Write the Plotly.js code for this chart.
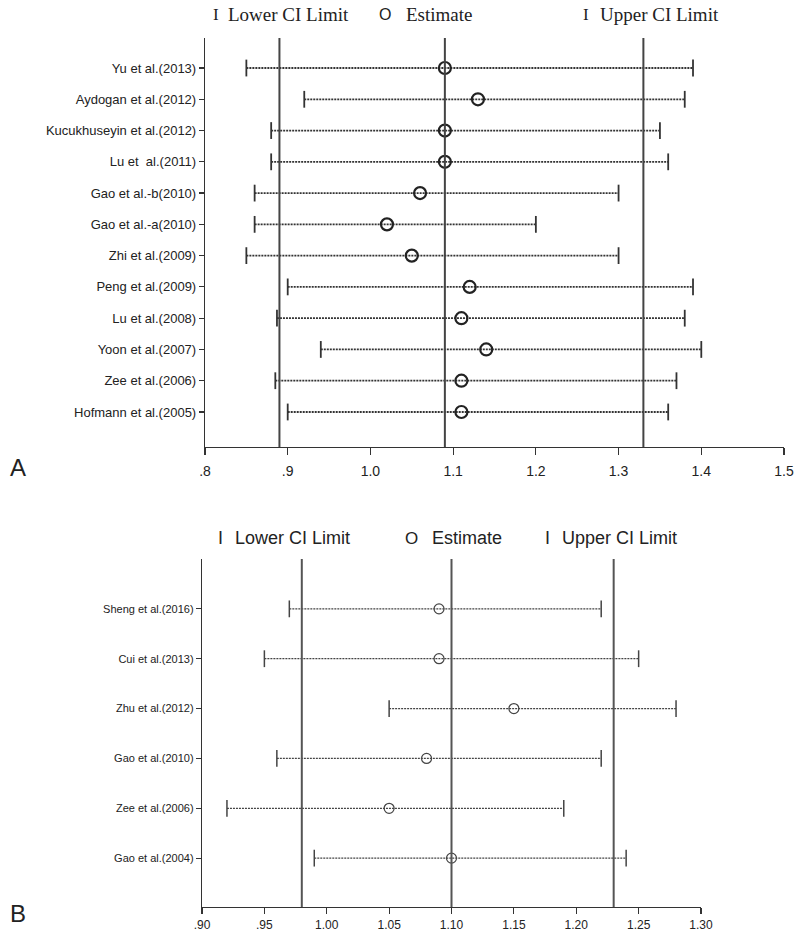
<!DOCTYPE html>
<html>
<head>
<meta charset="utf-8">
<script src="https://cdn.plot.ly/plotly-3.0.1.min.js"></script>
<style>html,body{margin:0;padding:0;background:#fff;}#chart{width:800px;height:935px;}</style>
</head>
<body>
<div id="chart"></div>
<script>
// Panel A data
const studiesA = ["Yu et al.(2013)", "Aydogan et al.(2012)", "Kucukhuseyin et al.(2012)", "Lu et  al.(2011)",
  "Gao et al.-b(2010)", "Gao et al.-a(2010)", "Zhi et al.(2009)", "Peng et al.(2009)", "Lu et al.(2008)",
  "Yoon et al.(2007)", "Zee et al.(2006)", "Hofmann et al.(2005)"];
const lowerA = [0.85, 0.92, 0.88, 0.88, 0.86, 0.86, 0.85, 0.90, 0.887, 0.94, 0.885, 0.90];
const estA   = [1.09, 1.13, 1.09, 1.09, 1.06, 1.02, 1.05, 1.12, 1.11, 1.14, 1.11, 1.11];
const upperA = [1.39, 1.38, 1.35, 1.36, 1.30, 1.20, 1.30, 1.39, 1.38, 1.40, 1.37, 1.36];
const refA = [0.89, 1.09, 1.33];
const tickValsA = [0.8, 0.9, 1.0, 1.1, 1.2, 1.3, 1.4, 1.5];
const tickTextA = [".8", ".9", "1.0", "1.1", "1.2", "1.3", "1.4", "1.5"];

// Panel B data
const studiesB = ["Sheng et al.(2016)", "Cui et al.(2013)", "Zhu et al.(2012)", "Gao et al.(2010)", "Zee et al.(2006)", "Gao et al.(2004)"];
const lowerB = [0.97, 0.95, 1.05, 0.96, 0.92, 0.99];
const estB   = [1.09, 1.09, 1.15, 1.08, 1.05, 1.10];
const upperB = [1.22, 1.25, 1.28, 1.22, 1.19, 1.24];
const refB = [0.98, 1.10, 1.23];
const tickValsB = [0.90, 0.95, 1.00, 1.05, 1.10, 1.15, 1.20, 1.25, 1.30];
const tickTextB = [".90", ".95", "1.00", "1.05", "1.10", "1.15", "1.20", "1.25", "1.30"];

const W = 800, H = 935;
const px = v => v / W;
const py = v => 1 - v / H;

function panelTraces(lower, est, upper, xa, ya, opts) {
  const idx = lower.map((_, i) => i);
  const lx = [], ly = [];
  idx.forEach(i => { lx.push(lower[i], upper[i], null); ly.push(i, i, null); });
  const cap = { symbol: 'line-ns-open', size: opts.capSize, color: opts.lineColor, line: { color: opts.lineColor, width: opts.capWidth } };
  return [
    { type: 'scatter', mode: 'lines', x: lx, y: ly, xaxis: xa, yaxis: ya, hoverinfo: 'skip', showlegend: false,
      line: { color: opts.lineColor, width: opts.dotWidth, dash: opts.dash } },
    { type: 'scatter', mode: 'markers', x: lower, y: idx, xaxis: xa, yaxis: ya, showlegend: false, marker: cap },
    { type: 'scatter', mode: 'markers', x: upper, y: idx, xaxis: xa, yaxis: ya, showlegend: false, marker: cap },
    { type: 'scatter', mode: 'markers', x: est, y: idx, xaxis: xa, yaxis: ya, showlegend: false,
      marker: { symbol: 'circle-open', size: opts.circSize, color: opts.circColor, line: { color: opts.circColor, width: opts.circWidth } } }
  ];
}

const data = [
  ...panelTraces(lowerA, estA, upperA, 'x', 'y',
    { lineColor: '#333', dotWidth: 1.8, dash: '2px,1px', capSize: 12, capWidth: 1.8, circSize: 12, circWidth: 2.2, circColor: '#222' }),
  ...panelTraces(lowerB, estB, upperB, 'x2', 'y2',
    { lineColor: '#444', dotWidth: 1.3, dash: '2px,1px', capSize: 12, capWidth: 1.5, circSize: 10, circWidth: 1.2, circColor: '#444' })
];

const shapes = [];
refA.forEach(v => shapes.push({ type: 'line', xref: 'x', yref: 'y domain', x0: v, x1: v, y0: 0, y1: 1, line: { color: '#444', width: 2 } }));
refB.forEach(v => shapes.push({ type: 'line', xref: 'x2', yref: 'y2 domain', x0: v, x1: v, y0: 0, y1: 1, line: { color: '#555', width: 2 } }));

const serif = 'Liberation Serif, Times New Roman, serif';
const sans = 'Liberation Sans, Arial, sans-serif';

function ann(text, x, y, size, family, anchor) {
  return { text: text, xref: 'paper', yref: 'paper', x: px(x), y: py(y), xanchor: anchor || 'left', yanchor: 'middle',
    showarrow: false, font: { family: family, size: size, color: '#222' } };
}

const annotations = [
  ann('I', 211, 15, 17, serif), ann('Lower CI Limit', 226, 15, 19, serif),
  ann('O', 377, 15, 16, sans), ann('Estimate', 404, 15, 19, serif),
  ann('I', 581, 15, 17, serif), ann('Upper CI Limit', 598, 15, 19, serif),
  ann('I', 216, 538, 18, sans), ann('Lower CI Limit', 233, 538, 18, sans),
  ann('O', 403, 538, 17, sans), ann('Estimate', 430, 538, 18, sans),
  ann('I', 543, 538, 18, sans), ann('Upper CI Limit', 560, 538, 18, sans),
  ann('A', 8, 467, 24, sans), ann('B', 8, 913, 24, sans)
];

const axisCommon = { showgrid: false, zeroline: false, showline: true, linecolor: '#333', linewidth: 1.2,
  ticks: 'outside', tickcolor: '#333', tickwidth: 1.2, fixedrange: true };

const layout = {
  width: W, height: H, margin: { l: 0, r: 0, t: 0, b: 0 },
  paper_bgcolor: '#fff', plot_bgcolor: '#fff', showlegend: false,
  xaxis: Object.assign({}, axisCommon, { domain: [px(205), px(784)], range: [0.8, 1.5], anchor: 'y',
    tickvals: tickValsA, ticktext: tickTextA, ticklen: 7, ticklabelstandoff: 4,
    tickfont: { family: sans, size: 14, color: '#222' } }),
  yaxis: Object.assign({}, axisCommon, { domain: [py(447), py(38)], range: [12.12, -0.96], anchor: 'x',
    tickvals: studiesA.map((_, i) => i), ticktext: studiesA, ticklen: 5,
    tickfont: { family: sans, size: 13, color: '#222' } }),
  xaxis2: Object.assign({}, axisCommon, { domain: [px(202), px(701)], range: [0.9, 1.3], anchor: 'y2',
    tickvals: tickValsB, ticktext: tickTextB, ticklen: 6, ticklabelstandoff: 0,
    tickfont: { family: sans, size: 12, color: '#222' } }),
  yaxis2: Object.assign({}, axisCommon, { domain: [py(907), py(559)], range: [5.98, -1.0], anchor: 'x2',
    tickvals: studiesB.map((_, i) => i), ticktext: studiesB, ticklen: 5,
    tickfont: { family: sans, size: 11, color: '#222' } }),
  shapes: shapes,
  annotations: annotations
};

Plotly.newPlot('chart', data, layout, { staticPlot: true, displayModeBar: false });
</script>
</body>
</html>
